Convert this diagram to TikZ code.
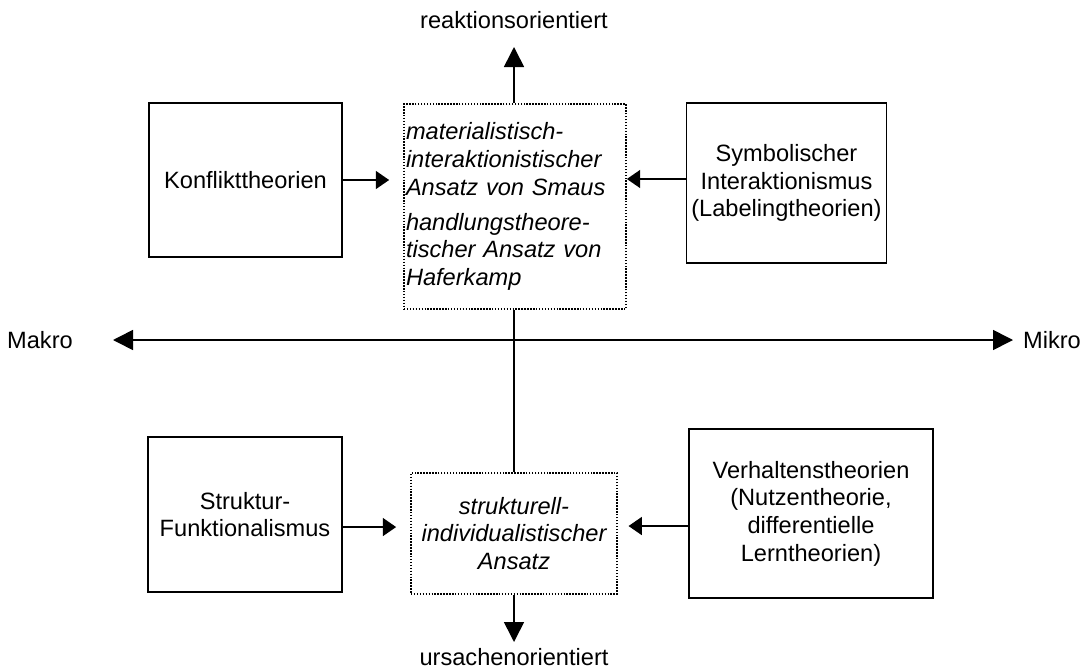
\documentclass[tikz,border=0pt]{standalone}
\usepackage{fontspec}
\setmainfont{Liberation Sans}
\usetikzlibrary{arrows.meta, positioning, calc}

\begin{document}
\begin{tikzpicture}[x=0.75pt, y=-0.75pt,
 every node/.style={font=\fontsize{17.7}{20.8}\selectfont},
 theory/.style={draw, line width=1.3pt, align=center, inner sep=2pt},
 approach/.style={draw, line width=1.3pt, dash pattern=on 1.1pt off 1.1pt, font=\fontsize{17.7}{20.8}\selectfont\itshape, inner sep=1.5pt},
 link/.style={line width=1.2pt, -{Triangle[length=10pt, width=13.5pt]}},
 orient/.style={line width=1.2pt, -{Triangle[length=15pt, width=15pt]}},
 axis/.style={line width=1.2pt, {Triangle[length=15pt, width=15pt]}-{Triangle[length=15pt, width=15pt]}}]
 \useasboundingbox (0,0) rectangle (1085,671);

 \node[theory, minimum width=144.75pt, minimum height=115.5pt] (konflikt) at (245.5,180) {Konflikttheorien};
 \node[approach, minimum width=166.5pt, minimum height=153.75pt, text width=163.5pt, align=left] (smaus) at (515,206.5)
   {materialistisch-\\interaktionistischer\\Ansatz von Smaus\\[5.5pt]handlungstheore-\\tischer Ansatz von\\Haferkamp};
 \node[theory, minimum width=150pt, minimum height=120pt] (symbol) at (786.5,183) {Symbolischer\\Interaktionismus\\(Labelingtheorien)};

 \node[theory, minimum width=145.5pt, minimum height=116.25pt] (struktur) at (245,514.5) {Struktur-\\Funktionalismus};
 \node[approach, minimum width=154.5pt, minimum height=90.75pt, align=center] (ansatz) at (514,533.5) {strukturell-\\individualistischer\\Ansatz};
 \node[theory, minimum width=183pt, minimum height=126.75pt] (verhalten) at (811,513.5) {Verhaltenstheorien\\(Nutzentheorie,\\differentielle\\Lerntheorien)};

 \node (reaktion) at (514,20) {reaktionsorientiert};
 \node (ursache) at (514,657) {ursachenorientiert};
 \node (makro) at (40,340) {Makro};
 \node (mikro) at (1052,340) {Mikro};

 \coordinate (reaktiontip) at (514,47);
 \coordinate (ursachetip) at (514,642);
 \coordinate (makrotip) at (113,340);
 \coordinate (mikrotip) at (1013,340);
 \coordinate (symbolout) at ([yshift=3pt]symbol.west);
 \coordinate (strukturout) at ([yshift=-9.4pt]struktur.east);
 \coordinate (verhaltenout) at ([yshift=-9.4pt]verhalten.west);

 \draw[axis] (makrotip) -- (mikrotip);
 \draw[line width=1.2pt] (reaktiontip |- smaus.south) -- (reaktiontip |- ansatz.north);
 \draw[orient] (reaktiontip |- smaus.north) -- (reaktiontip);
 \draw[orient] (ansatz.south) -- (ursachetip);

 \draw[link, shorten >=10.5pt] (konflikt.east) -- (konflikt.east -| smaus.west);
 \draw[link] (symbolout) -- (symbolout -| smaus.east);
 \draw[link, shorten >=10.5pt] (strukturout) -- (strukturout -| ansatz.west);
 \draw[link, shorten >=8pt] (verhaltenout) -- (verhaltenout -| ansatz.east);
\end{tikzpicture}
\end{document}
